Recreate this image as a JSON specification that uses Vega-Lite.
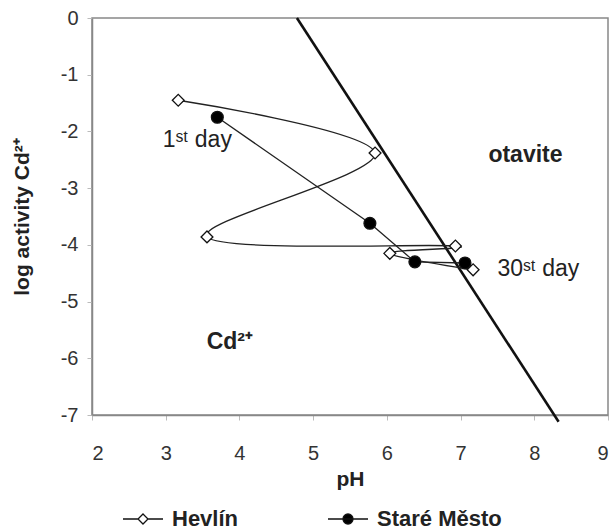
{
  "$schema": "https://vega.github.io/schema/vega-lite/v6.json",
  "width": 516,
  "height": 397,
  "autosize": "none",
  "padding": {"left": 92, "top": 18, "right": 7, "bottom": 116},
  "background": "white",
  "datasets": {
    "series": [
      {"site": "Hevlín", "seq": 1, "pH": 3.17, "log": -1.45},
      {"site": "Hevlín", "seq": 2, "pH": 5.84, "log": -2.38},
      {"site": "Hevlín", "seq": 3, "pH": 3.56, "log": -3.86},
      {"site": "Hevlín", "seq": 4, "pH": 6.93, "log": -4.02},
      {"site": "Hevlín", "seq": 5, "pH": 6.04, "log": -4.15},
      {"site": "Hevlín", "seq": 6, "pH": 7.17, "log": -4.44},
      {"site": "Staré Město", "seq": 1, "pH": 3.7, "log": -1.75},
      {"site": "Staré Město", "seq": 2, "pH": 5.77, "log": -3.62},
      {"site": "Staré Město", "seq": 3, "pH": 6.38, "log": -4.3},
      {"site": "Staré Město", "seq": 4, "pH": 7.06, "log": -4.32}
    ],
    "boundary": [
      {"pH": 4.78, "log": 0},
      {"pH": 8.33, "log": -7.12}
    ],
    "labels": [
      {"pH": 2.96, "log": -2.15, "text": "1ˢᵗ day", "kind": "day"},
      {"pH": 7.5, "log": -4.43, "text": "30ˢᵗ day", "kind": "day"},
      {"pH": 7.88, "log": -2.42, "text": "otavite", "kind": "phase"},
      {"pH": 3.87, "log": -5.72, "text": "Cd²⁺", "kind": "phase"}
    ]
  },
  "encoding": {
    "x": {
      "field": "pH", "type": "quantitative",
      "scale": {"domain": [2, 9], "nice": false, "zero": false},
      "axis": {"title": "pH", "values": [2,3,4,5,6,7,8,9], "grid": false, "tickSize": 5, "labelPadding": 23, "titlePadding": 5, "labelExpr": "'' + datum.value"}
    },
    "y": {
      "field": "log", "type": "quantitative",
      "scale": {"domain": [-7, 0], "nice": false, "zero": false},
      "axis": {"title": "log activity Cd²⁺", "values": [-7,-6,-5,-4,-3,-2,-1,0], "grid": false, "tickSize": 5, "labelPadding": 9, "titlePadding": 28, "labelExpr": "'' + datum.value"}
    }
  },
  "layer": [
    {
      "data": {"name": "boundary"},
      "mark": {"type": "line", "color": "#111", "strokeWidth": 2.6, "clip": false},
      "encoding": {}
    },
    {
      "data": {"name": "series"},
      "transform": [{"filter": "datum.site == 'Hevlín'"}],
      "mark": {"type": "line", "interpolate": "cardinal", "tension": 0, "color": "#222", "strokeWidth": 1.3},
      "encoding": {"order": {"field": "seq", "type": "quantitative"}}
    },
    {
      "data": {"name": "series"},
      "transform": [{"filter": "datum.site == 'Staré Město'"}],
      "mark": {"type": "line", "color": "#222", "strokeWidth": 1.3},
      "encoding": {"order": {"field": "seq", "type": "quantitative"}}
    },
    {
      "data": {"name": "series"},
      "transform": [{"filter": "datum.site == 'Hevlín'"}],
      "mark": {"type": "point", "shape": "diamond", "filled": true, "fill": "white", "stroke": "#111", "strokeWidth": 1.3, "size": 140, "opacity": 1},
      "encoding": {}
    },
    {
      "data": {"name": "series"},
      "transform": [{"filter": "datum.site == 'Staré Město'"}],
      "mark": {"type": "point", "shape": "circle", "filled": true, "fill": "black", "stroke": "#111", "strokeWidth": 1.3, "size": 140, "opacity": 1},
      "encoding": {}
    },
    {
      "data": {"name": "series"},
      "transform": [{"filter": "false"}],
      "mark": {"type": "point", "filled": true, "stroke": "#111", "strokeWidth": 1.3, "opacity": 1},
      "encoding": {
        "shape": {
          "field": "site", "type": "nominal",
          "scale": {"domain": ["Hevlín", "Staré Město"], "range": ["M-1,0L-0.25,0M0.25,0L1,0M0,-0.25L0.25,0L0,0.25L-0.25,0Z", "M-1,0L1,0M-0.25,0A0.25,0.25,0,1,1,0.25,0A0.25,0.25,0,1,1,-0.25,0Z"]},
          "legend": {
            "title": null,
            "orient": "none",
            "legendX": 30,
            "legendY": 480,
            "direction": "horizontal",
            "padding": 0,
            "symbolSize": 1600,
            "labelFont": "Liberation Sans",
            "labelFontSize": 22,
            "labelFontWeight": "bold",
            "labelColor": "#222",
            "labelOffset": 8,
            "columnPadding": 86
          }
        },
        "fill": {
          "field": "site", "type": "nominal",
          "scale": {"domain": ["Hevlín", "Staré Město"], "range": ["white", "black"]},
          "legend": {
            "title": null,
            "orient": "none",
            "legendX": 30,
            "legendY": 480,
            "direction": "horizontal",
            "padding": 0,
            "symbolSize": 1600,
            "labelFont": "Liberation Sans",
            "labelFontSize": 22,
            "labelFontWeight": "bold",
            "labelColor": "#222",
            "labelOffset": 8,
            "columnPadding": 86
          }
        }
      }
    },
    {
      "data": {"name": "labels"},
      "transform": [{"filter": "datum.kind == 'day'"}],
      "mark": {"type": "text", "align": "left", "baseline": "middle", "font": "Liberation Sans", "fontSize": 23, "color": "#222"},
      "encoding": {"text": {"field": "text"}}
    },
    {
      "data": {"name": "labels"},
      "transform": [{"filter": "datum.kind == 'phase'"}],
      "mark": {"type": "text", "align": "center", "baseline": "middle", "font": "Liberation Sans", "fontSize": 23, "fontWeight": "bold", "color": "#222"},
      "encoding": {"text": {"field": "text"}}
    }
  ],
  "config": {
    "view": {"stroke": "#888", "strokeWidth": 1.5},
    "axis": {
      "domainColor": "#888",
      "domainWidth": 1.5,
      "tickColor": "#bbb",
      "labelFont": "Liberation Sans",
      "labelFontSize": 20,
      "labelColor": "#333",
      "titleFont": "Liberation Sans",
      "titleFontSize": 21,
      "titleFontWeight": "bold",
      "titleColor": "#222"
    },
    "legend": {"symbolStrokeWidth": 1.3}
  }
}
